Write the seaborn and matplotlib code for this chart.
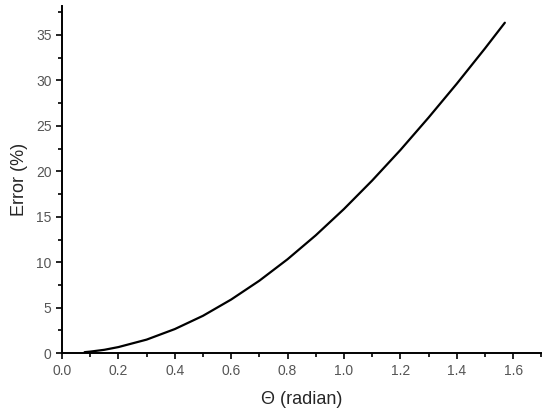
import matplotlib
matplotlib.use("Agg")
import matplotlib.pyplot as plt
import seaborn as sns
import pandas as pd
from matplotlib.ticker import MultipleLocator

# values
theta = [0.08, 0.1, 0.15, 0.2, 0.3, 0.4, 0.5, 0.6, 0.7, 0.8, 0.9, 1.0,
         1.1, 1.2, 1.3, 1.4, 1.5, 1.5708]
error = [0.11, 0.17, 0.37, 0.67, 1.49, 2.65, 4.11, 5.90, 7.97, 10.33, 12.96,
         15.85, 18.98, 22.33, 25.90, 29.62, 33.50, 36.34]

df = pd.DataFrame({"theta": theta, "error": error})

sns.set_style("ticks")
plt.rcParams["font.family"] = ["Liberation Sans", "DejaVu Sans"]

fig = plt.figure(figsize=(5.54, 4.15), dpi=100)
ax = fig.add_axes([0.112, 0.149, 0.865, 0.837])

sns.lineplot(data=df, x="theta", y="error", color="black", linewidth=1.6, ax=ax)

ax.set_xlim(0, 1.7)
ax.set_ylim(0, 38.2)
ax.xaxis.set_major_locator(MultipleLocator(0.2))
ax.xaxis.set_minor_locator(MultipleLocator(0.1))
ax.yaxis.set_major_locator(MultipleLocator(5))
ax.yaxis.set_minor_locator(MultipleLocator(2.5))
ax.set_xticklabels([f"{v:.1f}" for v in ax.get_xticks()])

ax.tick_params(which="major", length=4, width=1.2, color="black",
               labelsize=10, labelcolor="#555555", direction="out")
ax.tick_params(which="minor", length=3, width=1.2, color="black", direction="out")

for side in ["top", "right"]:
    ax.spines[side].set_visible(False)
for side in ["left", "bottom"]:
    ax.spines[side].set_linewidth(1.4)
    ax.spines[side].set_color("black")

ax.set_xlabel("Θ (radian)", fontsize=13, labelpad=10)
ax.set_ylabel("Error (%)", fontsize=13, labelpad=6)

fig.savefig("out.png", dpi=100)
